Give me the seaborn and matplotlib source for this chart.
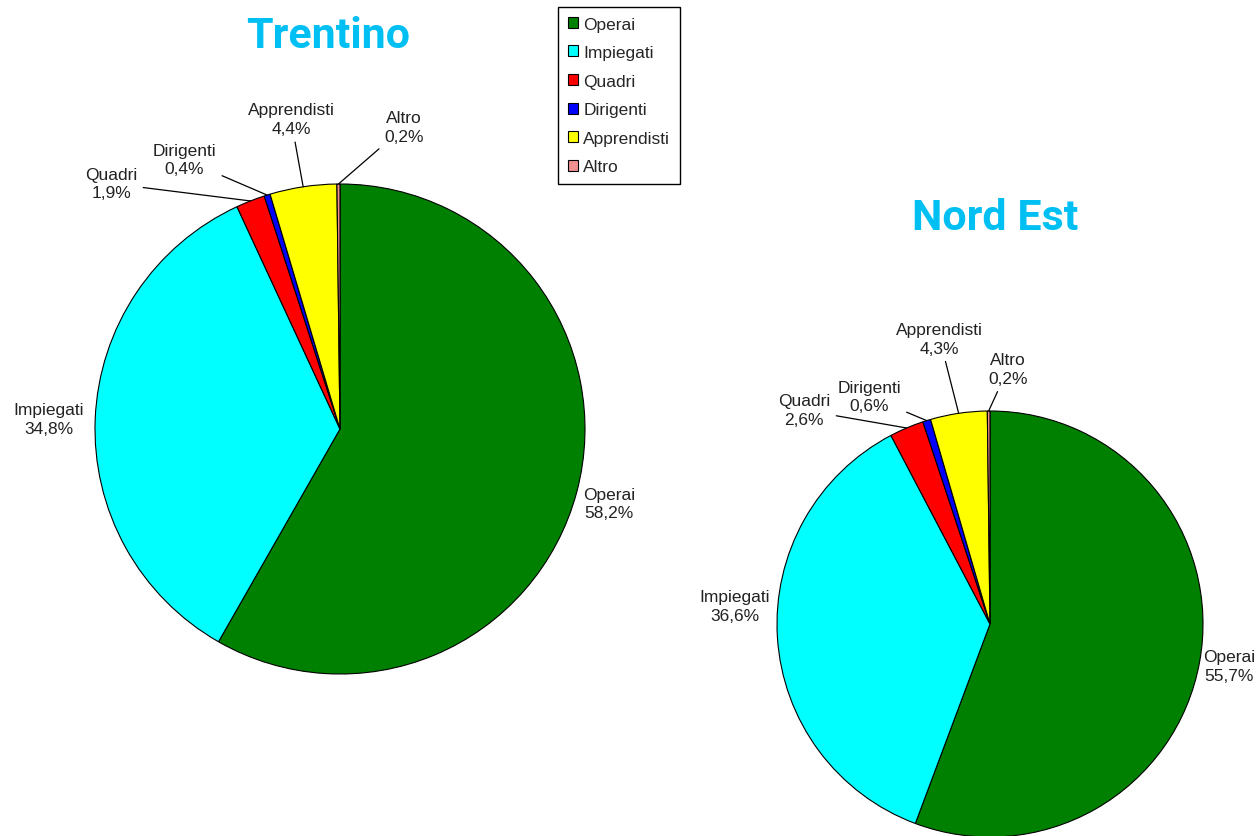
import numpy as np
import matplotlib.pyplot as plt
import seaborn as sns

# dati (percentuali)
categorie = ["Operai", "Impiegati", "Quadri", "Dirigenti", "Apprendisti", "Altro"]
trentino = [58.2, 34.8, 1.9, 0.4, 4.4, 0.2]
nord_est = [55.7, 36.6, 2.6, 0.6, 4.3, 0.2]
colori = ["#008000", "#00FFFF", "#FF0000", "#0000FF", "#FFFF00", "#F09090"]

sns.set_theme(style="white")
plt.rcParams["font.family"] = ["Liberation Sans", "DejaVu Sans"]

fig = plt.figure(figsize=(12.57, 8.37), dpi=100)
ax = fig.add_axes([0, 0, 1, 1])

# posizione etichette: (angolo in gradi, raggio relativo), linea si/no
lay_trentino = [(-15.5, 1.14, False), (178, 1.19, False), (133, 1.37, True),
                (120, 1.27, True), (99, 1.28, True), (78, 1.26, True)]
lay_nord = [(-10, 1.14, False), (176, 1.2, False), (131, 1.33, True),
            (118, 1.21, True), (100, 1.36, True), (86, 1.2, True)]


def disegna_torta(valori, centro, raggio, layout):
    wedges, _ = ax.pie(valori, colors=colori, startangle=90, counterclock=False,
                       center=centro, radius=raggio, normalize=True,
                       wedgeprops=dict(edgecolor="black", linewidth=0.8))
    for w, nome, v, (ang, rr, linea) in zip(wedges, categorie, valori, layout):
        mid = np.deg2rad((w.theta1 + w.theta2) / 2)
        bordo = (centro[0] + raggio * np.cos(mid), centro[1] + raggio * np.sin(mid))
        a = np.deg2rad(ang)
        pos = (centro[0] + rr * raggio * np.cos(a), centro[1] + rr * raggio * np.sin(a))
        testo = f"{nome}\n{v:.1f}%".replace(".", ",")
        props = dict(arrowstyle="-", color="black", lw=0.9, shrinkA=2, shrinkB=0) if linea else None
        ax.annotate(testo, xy=bordo, xytext=pos, ha="center", va="center",
                    fontsize=12.5, color="#222222", linespacing=1.3,
                    arrowprops=props)
    return wedges


w1 = disegna_torta(trentino, (340, 407), 245, lay_trentino)
disegna_torta(nord_est, (990, 212), 213, lay_nord)

# pie() reimposta i limiti: li fisso dopo
ax.set_xlim(0, 1257)
ax.set_ylim(0, 837)
ax.set_aspect("equal")
ax.axis("off")

fig.text(328 / 1257, 1 - 36 / 837, "Trentino", color="#00BFF3", fontsize=31,
         fontweight="bold", ha="center", va="center", family=["Roboto", "DejaVu Sans"])
fig.text(995 / 1257, 1 - 218 / 837, "Nord Est", color="#00BFF3", fontsize=31,
         fontweight="bold", ha="center", va="center", family=["Roboto", "DejaVu Sans"])

leg = fig.legend(w1, categorie, loc="upper left", bbox_to_anchor=(558 / 1257, 1 - 8 / 837),
                 frameon=True, fancybox=False, framealpha=1, fontsize=12.5, handlelength=0.6,
                 handleheight=0.6, handletextpad=0.3, labelspacing=0.78,
                 borderpad=0.55, borderaxespad=0)
leg.get_frame().set_edgecolor("black")
leg.get_frame().set_linewidth(1.0)

fig.savefig("out.png", dpi=100)
